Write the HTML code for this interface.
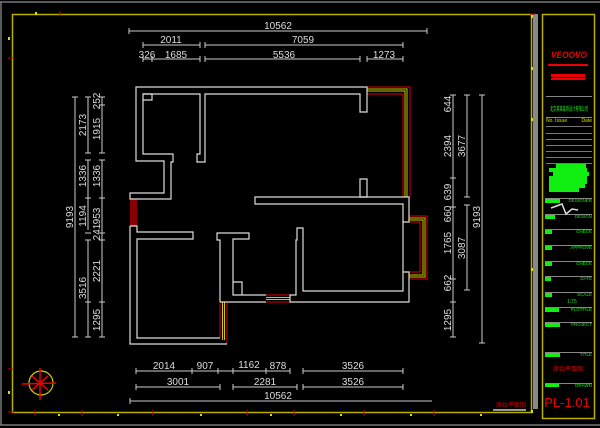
<!DOCTYPE html>
<html><head><meta charset="utf-8"><style>
html,body{margin:0;padding:0;background:#000;width:600px;height:428px;overflow:hidden}
svg{display:block}
text{font-family:"Liberation Sans","Noto Sans CJK SC",sans-serif}
</style></head><body>
<svg width="600" height="428" viewBox="0 0 600 428" xmlns="http://www.w3.org/2000/svg">
<rect width="600" height="428" fill="#000"/>
<line x1="0" y1="2" x2="600" y2="2" stroke="#777" stroke-width="1.5"/>
<line x1="1" y1="2" x2="1" y2="425" stroke="#777" stroke-width="1.5"/>
<line x1="0" y1="425" x2="600" y2="425" stroke="#777" stroke-width="1.5"/>
<rect x="12.5" y="14.5" width="519" height="398" fill="none" stroke="#b8b000" stroke-width="1.5"/>
<rect x="533" y="14" width="5" height="395" fill="#888"/>
<rect x="542.5" y="14.5" width="52" height="404" fill="none" stroke="#b8b000" stroke-width="1.5"/>
<g stroke="#c00" stroke-width="1">
<line x1="60" y1="11" x2="60" y2="16"/>
<line x1="35" y1="410" x2="35" y2="416"/><line x1="82" y1="410" x2="82" y2="416"/><line x1="153" y1="410" x2="153" y2="416"/><line x1="247" y1="410" x2="247" y2="416"/><line x1="294" y1="410" x2="294" y2="416"/><line x1="364" y1="410" x2="364" y2="416"/><line x1="434" y1="410" x2="434" y2="416"/>
<line x1="8" y1="369" x2="14" y2="369"/><line x1="8" y1="412" x2="14" y2="412"/><line x1="8" y1="58" x2="14" y2="58"/><line x1="530" y1="14" x2="535" y2="14"/>
</g>
<g fill="#dd0">
<rect x="35" y="12" width="2" height="3"/><rect x="8" y="37" width="2" height="3"/><rect x="8" y="391" width="2" height="3"/><rect x="58" y="414" width="2" height="2"/><rect x="117" y="414" width="2" height="2"/><rect x="200" y="414" width="2" height="2"/><rect x="270" y="414" width="2" height="2"/><rect x="340" y="414" width="2" height="2"/><rect x="410" y="414" width="2" height="2"/><rect x="480" y="414" width="2" height="2"/>
<rect x="531" y="15" width="2" height="3"/><rect x="531" y="67" width="2" height="3"/><rect x="531" y="118" width="2" height="3"/><rect x="531" y="268" width="2" height="3"/><rect x="531" y="410" width="2" height="3"/>
</g>
<circle cx="41" cy="383" r="12" fill="none" stroke="#cc0" stroke-width="1.2"/>
<g stroke="#e00" stroke-width="1.5"><line x1="22" y1="384" x2="56" y2="383"/><line x1="40" y1="368" x2="40" y2="400"/><line x1="32" y1="376" x2="48" y2="390"/><line x1="32" y1="390" x2="48" y2="376"/></g>
<g stroke="#ccc" stroke-width="1" fill="none">
<path d="M129,31H427M129,28V34M427,28V34"/>
<path d="M143,45H200M205,45H403M143,42V48M200,42V48M205,42V48M403,42V48"/>
<path d="M143,59H200M205,59H360M367,59H403M143,56V62M152,56V62M200,56V62M205,56V62M360,56V62M367,56V62M403,56V62"/>
<path d="M75,97V337M72,97H78M72,337H78"/>
<path d="M88,97V153M88,160V230M88,240V337M85,97H91M85,153H91M85,160H91M85,198H91M85,233H91M85,240H91M85,302H91M85,337H91"/>
<path d="M102,97V153M102,160V337M99,97H105M99,105H105M99,153H105M99,160H105M99,198H105M99,233H105M99,240H105M99,302H105M99,337H105"/>
<path d="M453,95V337M450,95H456M450,178H456M450,207H456M450,279H456M450,302H456M450,337H456"/>
<path d="M467,95V197M467,205V290M464,95H470M464,197H470M464,205H470M464,290H470"/>
<path d="M482,95V343M479,95H485M479,343H485"/>
<path d="M136,371H290M136,368V374M192,368V374M218,368V374M233,368V374M266,368V374M290,368V374M303,371H403M303,368V374M403,368V374"/>
<path d="M136,387H220M233,387H297M303,387H403M136,384V390M220,384V390M233,384V390M297,384V390M303,384V390M403,384V390"/>
<path d="M130,401H432M130,398V404"/>
</g>
<g fill="#ddd" font-size="10" text-anchor="middle">
<text x="278" y="29">10562</text>
<text x="171" y="43">2011</text><text x="303" y="43">7059</text>
<text x="147" y="58">326</text><text x="176" y="58">1685</text><text x="284" y="58">5536</text><text x="384" y="58">1273</text>
<text x="164" y="369">2014</text><text x="205" y="369">907</text><text x="249" y="368">1162</text><text x="278" y="369">878</text><text x="353" y="369">3526</text>
<text x="178" y="385">3001</text><text x="265" y="385">2281</text><text x="353" y="385">3526</text>
<text x="278" y="399">10562</text>
<g transform="translate(73,217) rotate(-90)"><text>9193</text></g>
<g transform="translate(86,125) rotate(-90)"><text>2173</text></g>
<g transform="translate(86,176) rotate(-90)"><text>1336</text></g>
<g transform="translate(86,216) rotate(-90)"><text>1194</text></g>
<g transform="translate(86,288) rotate(-90)"><text>3516</text></g>
<g transform="translate(100,101) rotate(-90)"><text>252</text></g>
<g transform="translate(100,129) rotate(-90)"><text>1915</text></g>
<g transform="translate(100,176) rotate(-90)"><text>1336</text></g>
<g transform="translate(100,216) rotate(-90)"><text>953</text></g>
<g transform="translate(100,232) rotate(-90)"><text>241</text></g>
<g transform="translate(100,271) rotate(-90)"><text>2221</text></g>
<g transform="translate(100,320) rotate(-90)"><text>1295</text></g>
<g transform="translate(451,104) rotate(-90)"><text>644</text></g>
<g transform="translate(451,146) rotate(-90)"><text>2394</text></g>
<g transform="translate(451,192) rotate(-90)"><text>639</text></g>
<g transform="translate(451,214) rotate(-90)"><text>660</text></g>
<g transform="translate(451,243) rotate(-90)"><text>1765</text></g>
<g transform="translate(451,283) rotate(-90)"><text>662</text></g>
<g transform="translate(451,320) rotate(-90)"><text>1295</text></g>
<g transform="translate(465,146) rotate(-90)"><text>3677</text></g>
<g transform="translate(465,248) rotate(-90)"><text>3087</text></g>
<g transform="translate(480,217) rotate(-90)"><text>9193</text></g>
</g>
<g fill="none" stroke-width="1">
<path d="M367,87H410V197" stroke="#d00"/><path d="M367,89H407V197" stroke="#cc0"/><path d="M367,91H405V197" stroke="#cc0"/><path d="M367,94H403V197" stroke="#d00"/>
<path d="M409,216H427V279H409" stroke="#d00"/><path d="M409,218H425V277H409" stroke="#cc0"/><path d="M409,220H423V275H409" stroke="#cc0"/><path d="M403,222H420V272H403" stroke="#d00"/>
<path d="M266,295H290M266,302H290" stroke="#d00"/><path d="M266,297.5H290M266,299.5H290" stroke="#cc0"/>
<path d="M220,302V338M227,302V344" stroke="#d00"/><path d="M222.5,302V340M224.5,302V340" stroke="#cc0"/>
<rect x="130" y="199" width="7" height="27" fill="#800" stroke="none"/>
</g>
<g fill="none" stroke="#ddd" stroke-width="1.2">
<path d="M136,87H367V112H360V94H205V162H197V154H200V94H143V154H173V162H171V199H130V193H164V161H136Z"/>
<path d="M143,94H152V100H143"/>
<path d="M360,179H367V197H360Z"/>
<path d="M255,197H409V222H403V204H255Z"/>
<path d="M403,222V272H409V302H290V295H296V240H297V228H303V291H403V272"/>
<path d="M130,226H137V232H193V239H137V338H220"/>
<path d="M227,344H130V226"/>
<path d="M220,302V240H217V233H249V239H233V295H266M220,302H266"/>
<path d="M233,282H242V295"/>
</g>
<text x="569" y="58" fill="#e00" font-size="9" font-weight="bold" font-style="italic" text-anchor="middle" textLength="36" lengthAdjust="spacingAndGlyphs">VEOOVO</text>
<rect x="548" y="64" width="40" height="2" fill="#e00"/>
<rect x="551" y="74" width="34" height="3" fill="#e00"/><rect x="551" y="78" width="34" height="2" fill="#e00"/>
<rect x="546" y="96" width="46" height="1" fill="#888"/>
<text x="569" y="111" fill="#2e2" font-size="6" text-anchor="middle" textLength="38" lengthAdjust="spacingAndGlyphs">北京某某装饰设计有限公司</text>
<rect x="546" y="117" width="46" height="1" fill="#888"/>
<text x="546" y="122" fill="#dd0" font-size="5">No. Issue</text><text x="592" y="122" fill="#dd0" font-size="5" text-anchor="end">Date</text>
<g fill="#777"><rect x="546" y="126" width="46" height="1"/><rect x="546" y="133" width="46" height="1"/><rect x="546" y="139" width="46" height="1"/><rect x="546" y="145" width="46" height="1"/><rect x="546" y="151" width="46" height="1"/><rect x="546" y="157" width="46" height="1"/><rect x="546" y="163" width="46" height="1"/></g>
<g fill="#1e1"><rect x="556" y="164" width="30" height="4"/><rect x="549" y="168" width="38" height="4"/><rect x="553" y="172" width="36" height="4"/><rect x="549" y="176" width="38" height="4"/><rect x="549" y="180" width="38" height="4"/><rect x="549" y="184" width="36" height="4"/><rect x="549" y="188" width="30" height="4"/></g>
<g fill="#888"><rect x="545" y="198" width="47" height="1"/><rect x="545" y="214" width="47" height="1"/><rect x="545" y="229" width="47" height="1"/><rect x="545" y="245" width="47" height="1"/><rect x="545" y="261" width="47" height="1"/><rect x="545" y="276" width="47" height="1"/><rect x="545" y="292" width="47" height="1"/><rect x="545" y="307" width="47" height="1"/><rect x="545" y="322" width="47" height="1"/><rect x="545" y="352" width="47" height="1"/><rect x="545" y="383" width="47" height="1"/></g>
<g fill="#1e1"><rect x="545" y="199" width="15" height="4"/><rect x="545" y="215" width="10" height="4"/><rect x="545" y="230" width="7" height="4"/><rect x="545" y="246" width="7" height="4"/><rect x="545" y="262" width="7" height="4"/><rect x="545" y="277" width="6" height="4"/><rect x="545" y="293" width="7" height="4"/><rect x="545" y="308" width="14" height="4"/><rect x="545" y="323" width="15" height="4"/><rect x="545" y="353" width="15" height="4"/><rect x="545" y="384" width="14" height="3"/></g>
<g fill="#1e1" font-size="4.5" text-anchor="end"><text x="592" y="202">DESIGNER</text><text x="592" y="218">DESIGN</text><text x="592" y="233">CHECK</text><text x="592" y="249">APPROVE</text><text x="592" y="265">CHECK</text><text x="592" y="280">DATE</text><text x="592" y="296">SCALE</text><text x="592" y="311">PLOTFILE</text><text x="592" y="326">PROJECT</text><text x="592" y="356">TITLE</text><text x="592" y="387">DRAWN</text></g>
<text x="567" y="303" fill="#1e1" font-size="5">1:75</text>
<path d="M551,208L562,204L566,214L572,209L578,210" stroke="#ddd" stroke-width="1.5" fill="none"/>
<text x="568" y="371" fill="#d00" font-size="6" text-anchor="middle">原始平面图</text>
<text x="567" y="407" fill="#e00" font-size="13" text-anchor="middle">PL-1.01</text>
<text x="511" y="407" fill="#c00" font-size="6" text-anchor="middle">原始平面图</text>
<rect x="493" y="409" width="33" height="2" fill="#999"/>
</svg>
</body></html>
